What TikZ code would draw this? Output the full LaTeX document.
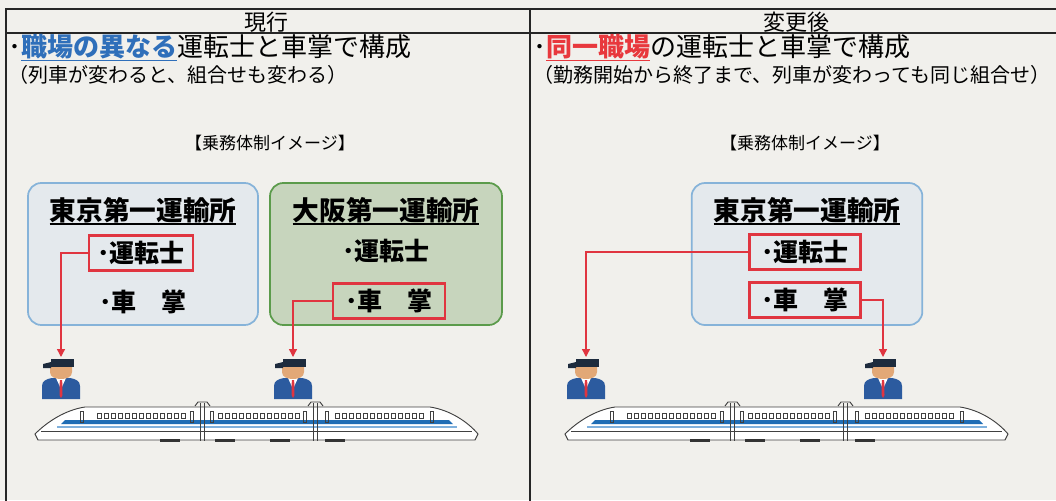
\documentclass[tikz,border=0pt]{standalone}
\usepackage{fontspec}
\setmainfont{Noto Sans CJK JP}
\usepackage{tikz}
\usetikzlibrary{arrows.meta}
\definecolor{paper}{HTML}{F1F0EC}
\definecolor{hlblue}{HTML}{2F6FBA}
\definecolor{hlred}{HTML}{E8383D}
\definecolor{tkyfill}{HTML}{E4E9ED}
\definecolor{tkydraw}{HTML}{86B3D9}
\definecolor{osafill}{HTML}{C7D5BD}
\definecolor{osadraw}{HTML}{5B9B4B}
\definecolor{boxred}{HTML}{E03540}
\definecolor{suitblue}{HTML}{2C5B9F}
\definecolor{hatnavy}{HTML}{1D2B3D}
\definecolor{facetan}{HTML}{E2A877}
\definecolor{stripeblue}{HTML}{1F6DB5}
\definecolor{stripelight}{HTML}{7FB0DC}
\newcommand\ulbox[1]{\leavevmode\setbox0=\hbox{#1}\rlap{\rule[-3.5pt]{\wd0}{1.3pt}}\box0}
\newcommand\person[2]{%
  \begin{scope}[shift={(#1,#2)}]
    \fill[suitblue] (-19,40) -- (-19,27) .. controls (-19,22) and (-15,20) .. (-9,19) -- (9,19) .. controls (15,20) and (19,22) .. (19,27) -- (19,40) -- cycle;
    \fill[white] (-5,19) -- (5,19) -- (0,30) -- cycle;
    \fill[boxred] (-1.2,21) -- (1.2,21) -- (1.5,36) -- (0,39) -- (-1.5,36) -- cycle;
    \fill[facetan] (-11,6) -- (11,6) -- (11,13) .. controls (11,18) and (6,20) .. (0,20) .. controls (-6,20) and (-11,18) .. (-11,13) -- cycle;
    \fill[hatnavy] (-10,0) rectangle (13,8);
    \fill[hatnavy] (-10,3) -- (-18,5) -- (-18,9) -- (-10,9) -- cycle;
  \end{scope}}
\newcommand\shinkansen[1]{%
  \begin{scope}[shift={(#1,0)}]
    \draw[trainline, fill=white] (0,434) .. controls (12,422) and (30,410) .. (50,407) -- (395,407) .. controls (415,410) and (433,422) .. (443,434) -- (440,440) -- (3,440) -- cycle;
    \fill[stripeblue] (30,420) -- (414,420) -- (418,424) -- (26,424) -- cycle;
    \draw[stripelight, line width=1pt] (22,427) -- (422,427);
    \draw[trainline] (6,431) -- (437,431);
    \foreach \wx in {62,69,...,150} \draw[trainline, line width=0.4pt] (\wx,413) rectangle ++(4,5);
    \foreach \wx in {183,190,...,265} \draw[trainline, line width=0.4pt] (\wx,413) rectangle ++(4,5);
    \foreach \wx in {300,307,...,385} \draw[trainline, line width=0.4pt] (\wx,413) rectangle ++(4,5);
    \foreach \jx in {165,169,278,282} \draw[trainline] (\jx,403) -- (\jx,441);
    \foreach \dx in {45,155,175,268,290,395} \draw[trainline, line width=0.5pt] (\dx,411) rectangle ++(3,11);
    \foreach \bx in {125,180,235,290} \fill[black!80] (\bx,439) rectangle ++(20,3);
    \draw[trainline] (160,406) -- (163,402) -- (172,402) -- (175,406);
    \draw[trainline] (273,406) -- (276,402) -- (285,402) -- (288,406);
  \end{scope}}
\tikzset{
  frame/.style={line width=1pt, black!85},
  hdr/.style={font=\fontsize{16.5}{18}\selectfont},
  lead/.style={anchor=west, inner sep=0pt, font=\fontsize{19.5}{22}\selectfont},
  note/.style={anchor=west, inner sep=0pt, font=\fontsize{15}{17}\selectfont},
  caption/.style={font=\fontsize{12.75}{14}\selectfont},
  office/.style={rounded corners=10pt, line width=1.3pt, minimum height=106.5pt},
  boxtitle/.style={font=\fontsize{20}{22}\selectfont\bfseries},
  item/.style={font=\fontsize{18.75}{20}\selectfont\bfseries, inner sep=0pt},
  redbox/.style={item, draw=boxred, line width=2pt, minimum height=26pt},
  link/.style={boxred, line width=1pt, -{Triangle[length=6pt, width=6pt]}},
  trainline/.style={line width=0.7pt, black!75}
}
\begin{document}
\begin{tikzpicture}[x=0.75pt, y=-0.75pt]
  %%%%% START %%%%%
  \fill[paper] (0,0) rectangle (1056,500);
  \useasboundingbox (0,0) rectangle (1056,500);

  % table frame
  \draw[frame] (6,501) -- (6,9) -- (1057,9);
  \draw[frame] (6,33) -- (1057,33);
  \draw[frame] (530,9) -- (530,501);

  \node[hdr] (hdrL) at (266,22) {現行};
  \node[hdr] (hdrR) at (796,22) {変更後};

  % current
  \node[lead] (leadL) at (8,48) {･\textcolor{hlblue}{\ulbox{\bfseries 職場の異なる}}運転士と車掌で構成};
  \node[note] (noteL) at (8,75) {（列車が変わると、組合せも変わる）};
  \node[caption] (capL) at (270,143) {【乗務体制イメージ】};

  \node[office, fill=tkyfill, draw=tkydraw, minimum width=172.5pt] (tkyL) at (143,254) {};
  \node[office, fill=osafill, draw=osadraw, minimum width=174pt] (osaL) at (386,254) {};
  \node[boxtitle] (tkyLt) at (143,211) {\ulbox{東京第一運輸所}};
  \node[boxtitle] (osaLt) at (386,211) {\ulbox{大阪第一運輸所}};
  \node[redbox, minimum width=78pt] (drvL) at (141,253) {･運転士};
  \node[item] (conL) at (143,302) {･車　掌};
  \node[item] (drvO) at (386,251) {･運転士};
  \node[redbox, minimum width=84pt] (conO) at (389,301) {･車　掌};

  \coordinate (psnA) at (61,357);
  \coordinate (psnB) at (293,357);
  \draw[link] (drvL.west) -| (psnA);
  \draw[link] (conO.west) -| (psnB);
  \person{61}{359}
  \person{293}{359}
  \shinkansen{35}

  % after
  \node[lead] (leadR) at (533,48) {･\textcolor{hlred}{\ulbox{\bfseries 同一職場}}の運転士と車掌で構成};
  \node[note] (noteR) at (533,75) {（勤務開始から終了まで、列車が変わっても同じ組合せ）};
  \node[caption] (capR) at (805,143) {【乗務体制イメージ】};

  \node[office, fill=tkyfill, draw=tkydraw, minimum width=173pt] (tkyR) at (807,254) {};
  \node[boxtitle] (tkyRt) at (807,211) {\ulbox{東京第一運輸所}};
  \node[redbox, minimum width=83pt] (drvR) at (805,252) {･運転士};
  \node[redbox, minimum width=83pt] (conR) at (805,300) {･車　掌};

  \coordinate (psnC) at (586,357);
  \coordinate (psnD) at (883,357);
  \draw[link] (drvR.west) -| (psnC);
  \draw[link] (conR.east) -| (psnD);
  \person{586}{359}
  \person{883}{359}
  \shinkansen{565}
  %%%%% END %%%%%
\end{tikzpicture}
\end{document}
